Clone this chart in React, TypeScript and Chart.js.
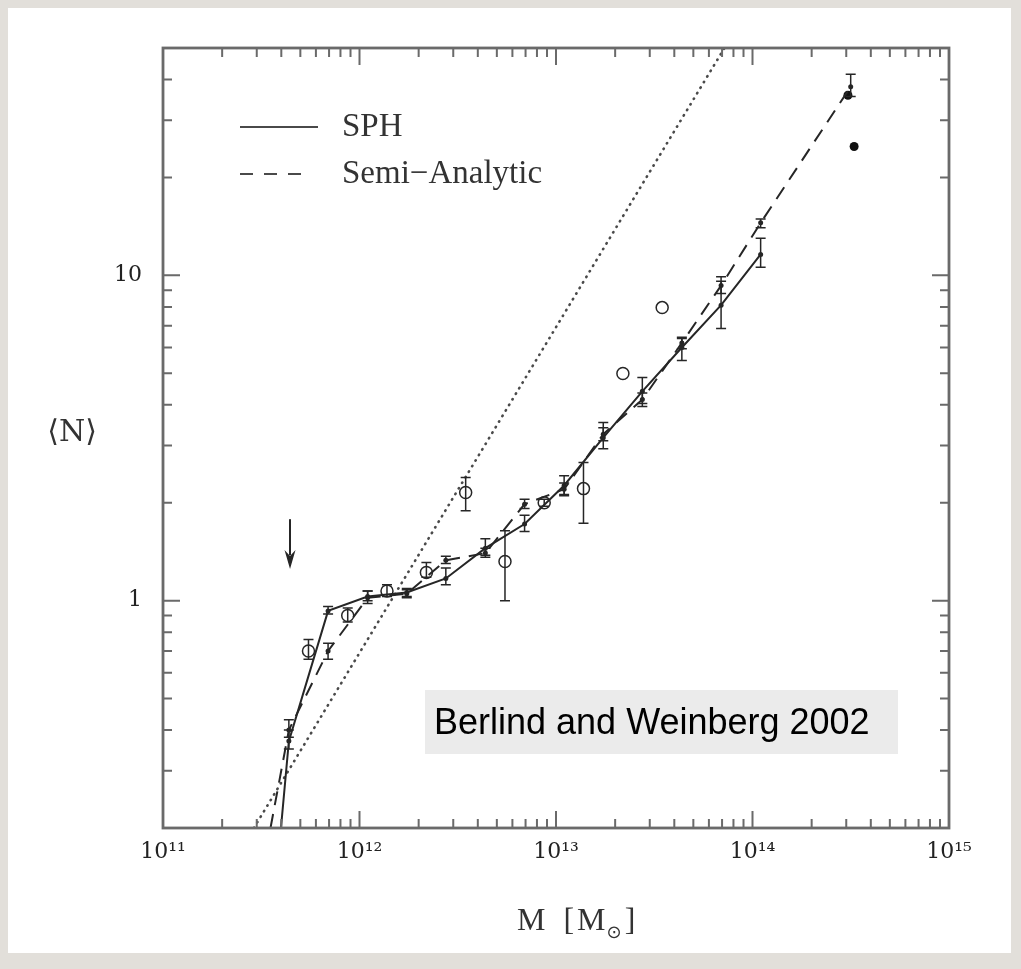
import React, { useEffect, useRef } from "react";
import { Chart, registerables } from "chart.js";

Chart.register(...registerables);

// ---------------- data ----------------
// SPH (solid line) : halo mass bins and mean occupation
const sphMass = [2.75e11, 4.37e11, 6.92e11, 1.1e12, 1.74e12, 2.75e12, 4.37e12, 6.92e12, 1.1e13, 1.74e13, 2.75e13, 4.37e13, 6.92e13, 1.1e14];
const sphN = [0.017, 0.37, 0.93, 1.03, 1.06, 1.17, 1.45, 1.72, 2.26, 3.17, 4.4, 6.0, 8.1, 11.6];
const sphLo = [null, 0.35, 0.91, 1.0, 1.03, 1.12, 1.38, 1.63, 2.12, 2.93, 4.04, 5.47, 6.87, 10.6];
const sphHi = [null, 0.4, 0.96, 1.07, 1.09, 1.26, 1.55, 1.83, 2.42, 3.53, 4.85, 6.4, 9.6, 13.0];

// Semi-Analytic (dashed line)
const saMass = [2.75e11, 4.37e11, 6.92e11, 1.1e12, 1.74e12, 2.75e12, 4.37e12, 6.92e12, 1.1e13, 1.74e13, 2.75e13, 4.37e13, 6.92e13, 1.1e14, 3.16e14];
const saN = [0.09, 0.4, 0.7, 1.02, 1.05, 1.33, 1.4, 1.98, 2.2, 3.25, 4.15, 6.2, 9.3, 14.5, 38];
const saLo = [null, 0.38, 0.66, 0.98, 1.02, 1.3, 1.36, 1.92, 2.1, 3.1, 3.95, 5.95, 8.8, 14.0, 35.5];
const saHi = [null, 0.43, 0.74, 1.07, 1.08, 1.37, 1.45, 2.05, 2.3, 3.4, 4.35, 6.45, 9.9, 14.9, 41.5];

// open circles
const ocMass = [5.5e11, 8.71e11, 1.38e12, 2.19e12, 3.47e12, 5.5e12, 8.71e12, 1.38e13, 2.19e13, 3.47e13];
const ocN = [0.7, 0.9, 1.07, 1.22, 2.15, 1.32, 2.0, 2.21, 4.99, 7.96];
const ocLo = [0.66, 0.86, 1.03, 1.18, 1.89, 1.0, 1.95, 1.73, null, null];
const ocHi = [0.76, 0.95, 1.12, 1.31, 2.39, 1.64, 2.05, 2.66, null, null];

// filled dots (individual massive halos)
const fdMass = [3.06e14, 3.29e14];
const fdN = [35.8, 24.9];

// dotted reference line  <N> proportional to M
const dotMass = [2.9e11, 7.2e13];
const dotN = [0.2, 50];

// arrow (resolution limit)
const arrowMass = [4.43e11];
const arrowN = [1.78, 1.25];

// axis ticks
const xTickValues = [1e11, 1e12, 1e13, 1e14, 1e15];
const yTickValues = [1, 10];
const supDigits: Record<string, string> = { "0": "\u2070", "1": "\u00B9", "2": "\u00B2", "3": "\u00B3", "4": "\u2074", "5": "\u2075", "6": "\u2076", "7": "\u2077", "8": "\u2078", "9": "\u2079" };

const INK = "#262626";
const AXIS = "#6a6a6a";
const SERIF = "'Liberation Serif', 'DejaVu Serif', serif";

const errorSets = [
  { m: sphMass, lo: sphLo, hi: sphHi },
  { m: saMass, lo: saLo, hi: saHi },
  { m: ocMass, lo: ocLo, hi: ocHi },
];

const overlay = {
  id: "overlay",
  afterDatasetsDraw(chart: any) {
    const { ctx, chartArea: a, scales } = chart;
    const x = scales.x;
    const y = scales.y;
    ctx.save();

    // error bars
    ctx.beginPath();
    ctx.rect(a.left, a.top, a.right - a.left, a.bottom - a.top);
    ctx.clip();
    ctx.strokeStyle = INK;
    ctx.lineWidth = 1.5;
    errorSets.forEach((s) => {
      s.m.forEach((m, i) => {
        const lo = s.lo[i];
        const hi = s.hi[i];
        if (lo == null || hi == null) return;
        const px = x.getPixelForValue(m);
        const p1 = y.getPixelForValue(lo);
        const p2 = y.getPixelForValue(hi);
        ctx.beginPath();
        ctx.moveTo(px, p1);
        ctx.lineTo(px, p2);
        ctx.moveTo(px - 5, p1);
        ctx.lineTo(px + 5, p1);
        ctx.moveTo(px - 5, p2);
        ctx.lineTo(px + 5, p2);
        ctx.stroke();
      });
    });

    // arrow
    const ax = x.getPixelForValue(arrowMass[0]);
    const ay1 = y.getPixelForValue(arrowN[0]);
    const ay2 = y.getPixelForValue(arrowN[1]);
    ctx.strokeStyle = INK;
    ctx.fillStyle = INK;
    ctx.lineWidth = 2;
    ctx.beginPath();
    ctx.moveTo(ax, ay1);
    ctx.lineTo(ax, ay2 - 14);
    ctx.stroke();
    ctx.beginPath();
    ctx.moveTo(ax - 5.5, ay2 - 19);
    ctx.lineTo(ax, ay2 - 13);
    ctx.lineTo(ax + 5.5, ay2 - 19);
    ctx.lineTo(ax, ay2);
    ctx.closePath();
    ctx.fill();
    ctx.restore();

    ctx.save();
    // frame
    ctx.strokeStyle = AXIS;
    ctx.lineWidth = 2.8;
    ctx.strokeRect(a.left, a.top, a.right - a.left, a.bottom - a.top);

    // tick marks (inside, mirrored)
    ctx.lineWidth = 2;
    ctx.beginPath();
    for (let d = 11; d < 15; d++) {
      for (let k = 1; k <= 9; k++) {
        const v = k * Math.pow(10, d);
        const px = x.getPixelForValue(v);
        if (px <= a.left + 1 || px >= a.right - 1) continue;
        const len = k === 1 ? 17 : 9;
        ctx.moveTo(px, a.bottom);
        ctx.lineTo(px, a.bottom - len);
        ctx.moveTo(px, a.top);
        ctx.lineTo(px, a.top + len);
      }
    }
    for (let d = -1; d <= 1; d++) {
      for (let k = 1; k <= 9; k++) {
        const v = k * Math.pow(10, d);
        if (v < 0.2 || v > 50) continue;
        const py = y.getPixelForValue(v);
        if (py <= a.top + 1 || py >= a.bottom - 1) continue;
        const len = k === 1 ? 17 : 9;
        ctx.moveTo(a.left, py);
        ctx.lineTo(a.left + len, py);
        ctx.moveTo(a.right, py);
        ctx.lineTo(a.right - len, py);
      }
    }
    ctx.stroke();

    // legend
    ctx.strokeStyle = "#4a4a4a";
    ctx.lineWidth = 2;
    ctx.beginPath();
    ctx.moveTo(240, 127);
    ctx.lineTo(318, 127);
    ctx.stroke();
    ctx.setLineDash([13, 11]);
    ctx.beginPath();
    ctx.moveTo(240, 174);
    ctx.lineTo(310, 174);
    ctx.stroke();
    ctx.setLineDash([]);
    ctx.fillStyle = "#333";
    ctx.font = `33px ${SERIF}`;
    ctx.textBaseline = "alphabetic";
    ctx.textAlign = "left";
    ctx.fillText("SPH", 342, 136);
    ctx.fillText("Semi\u2212Analytic", 342, 183);

    // y title
    ctx.font = `30px 'DejaVu Serif', serif`;
    ctx.textAlign = "center";
    ctx.fillText("\u27E8N\u27E9", 72, 441);

    // x title
    ctx.textAlign = "left";
    ctx.font = `32px ${SERIF}`;
    let cx = 517;
    ctx.fillText("M", cx, 930);
    cx += ctx.measureText("M").width + 18;
    ctx.fillText("[", cx, 930);
    cx += ctx.measureText("[").width + 3;
    ctx.fillText("M", cx, 930);
    cx += ctx.measureText("M").width + 1;
    ctx.font = `18px 'DejaVu Sans', sans-serif`;
    ctx.fillText("\u2299", cx, 938);
    cx += ctx.measureText("\u2299").width + 3;
    ctx.font = `32px ${SERIF}`;
    ctx.fillText("]", cx, 930);

    // annotation box
    ctx.fillStyle = "#ebebeb";
    ctx.fillRect(425, 690, 473, 64);
    ctx.fillStyle = "#000";
    ctx.font = `36px 'Liberation Sans', Arial, sans-serif`;
    ctx.fillText("Berlind and Weinberg 2002", 434, 734);
    ctx.restore();
  },
};

export default function App() {
  const ref = useRef<HTMLCanvasElement | null>(null);

  useEffect(() => {
    if (!ref.current) return;
    const toXY = (xs: number[], ys: number[]) => xs.map((v, i) => ({ x: v, y: ys[i] }));
    const chart = new Chart(ref.current, {
      type: "line",
      data: {
        datasets: [
          {
            label: "SPH",
            data: toXY(sphMass, sphN),
            borderColor: INK,
            backgroundColor: INK,
            borderWidth: 2,
            pointRadius: 2.5,
            pointBorderWidth: 0,
            tension: 0,
          },
          {
            label: "Semi-Analytic",
            data: toXY(saMass, saN),
            borderColor: INK,
            backgroundColor: INK,
            borderWidth: 2,
            borderDash: [14, 9],
            pointRadius: 2.5,
            pointBorderWidth: 0,
            tension: 0,
          },
          {
            label: "N \u221D M",
            data: toXY(dotMass, dotN),
            borderColor: "#4a4a4a",
            borderWidth: 2.6,
            borderDash: [0.5, 6],
            borderCapStyle: "round",
            pointRadius: 0,
            tension: 0,
          },
          {
            label: "open",
            data: toXY(ocMass, ocN),
            showLine: false,
            borderColor: INK,
            backgroundColor: "rgba(0,0,0,0)",
            pointRadius: 6,
            pointBorderWidth: 1.5,
          },
          {
            label: "filled",
            data: toXY(fdMass, fdN),
            showLine: false,
            borderColor: "#111",
            backgroundColor: "#111",
            pointRadius: 4.5,
            pointBorderWidth: 0,
          },
        ],
      },
      options: {
        animation: false,
        responsive: false,
        devicePixelRatio: 1,
        layout: { padding: { left: 0, top: 48, right: 72, bottom: 0 } },
        plugins: { legend: { display: false }, tooltip: { enabled: false }, title: { display: false } },
        scales: {
          x: {
            type: "logarithmic",
            min: 1e11,
            max: 1e15,
            grid: { display: false, drawTicks: false },
            border: { display: false },
            afterBuildTicks: (s: any) => {
              s.ticks = xTickValues.map((v) => ({ value: v }));
            },
            afterFit: (s: any) => {
              s.height = 141;
            },
            ticks: {
              padding: 11,
              maxRotation: 0,
              autoSkip: false,
              color: "#222",
              font: { family: "'DejaVu Serif', serif", size: 22 },
              callback: (v: any) => {
                const e = String(Math.round(Math.log10(Number(v))));
                return "10" + e.split("").map((c) => supDigits[c]).join("");
              },
            },
          },
          y: {
            type: "logarithmic",
            min: 0.2,
            max: 50,
            grid: { display: false, drawTicks: false },
            border: { display: false },
            afterBuildTicks: (s: any) => {
              s.ticks = yTickValues.map((v) => ({ value: v }));
            },
            afterFit: (s: any) => {
              s.width = 163;
            },
            ticks: {
              padding: 21,
              autoSkip: false,
              color: "#222",
              font: { family: "'DejaVu Serif', serif", size: 22 },
              callback: (v: any) => String(Number(v)),
            },
          },
        },
      },
      plugins: [overlay],
    } as any);
    return () => chart.destroy();
  }, []);

  return (
    <div style={{ position: "fixed", left: 0, top: 0, width: 1021, height: 969, background: "#e2dfda", overflow: "hidden" }}>
      <div style={{ position: "absolute", left: 8, top: 8, width: 1003, height: 945, background: "#ffffff" }} />
      <canvas ref={ref} width={1021} height={969} style={{ position: "absolute", left: 0, top: 0, width: 1021, height: 969 }} />
    </div>
  );
}
